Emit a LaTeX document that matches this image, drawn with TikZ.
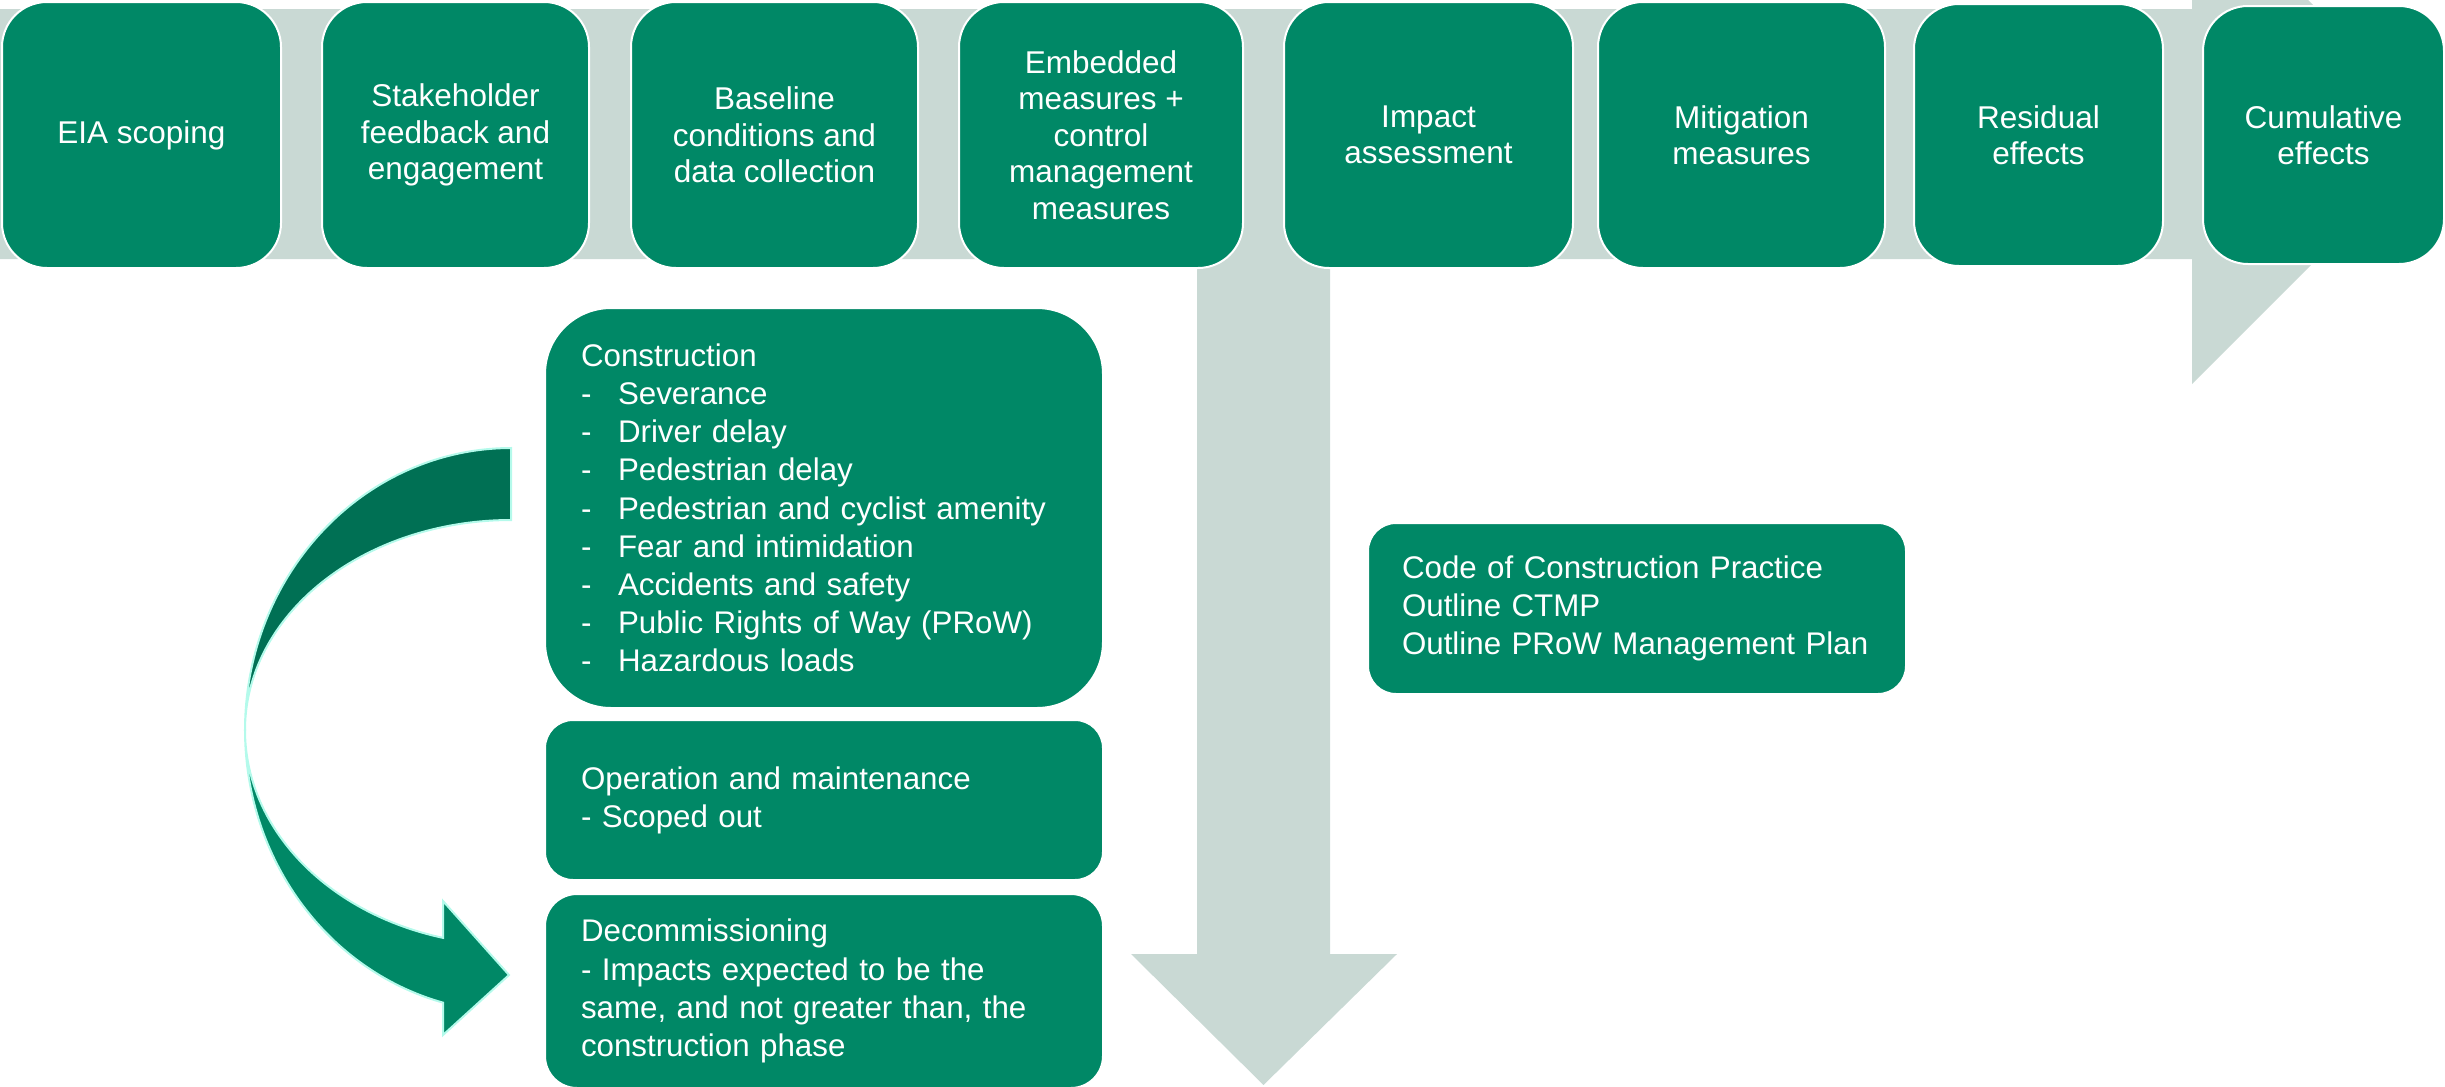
\documentclass[tikz,border=0pt]{standalone}
\usepackage{fontspec}
\setmainfont{Liberation Sans}
\definecolor{boxgreen}{RGB}{0,136,102}
\definecolor{darkgreen}{RGB}{0,112,84}
\definecolor{greyband}{RGB}{201,217,212}
\definecolor{aqua}{RGB}{180,250,235}
\tikzset{
  topbox/.style={draw=white, line width=2pt, fill=boxgreen, text=white, align=center,
    font=\fontsize{31.5}{36.5}\selectfont, inner sep=0pt, anchor=north west, rounded corners=45pt},
  listbox/.style={draw=white, line width=2pt, fill=boxgreen, text=white, align=left,
    font=\fontsize{31.3}{38.2}\selectfont, inner ysep=0pt, anchor=north west},
  greyarrow/.style={fill=greyband, draw=none},
  curveback/.style={fill=darkgreen, draw=aqua, line width=2pt},
  curvefront/.style={fill=boxgreen, draw=aqua, line width=2pt}
}
\newcommand{\itm}[1]{\makebox[37pt][l]{-}#1}
\begin{document}
\begin{tikzpicture}[x=1pt,y=-1pt]
\useasboundingbox (0,0) rectangle (2445,1087);
\clip (0,0) rectangle (2445,1087);
% grey process arrows
\fill[greyarrow] (0,9) -- (2192,9) -- (2192,-116) -- (2442,134) -- (2192,384) -- (2192,259) -- (0,259) -- cycle;
\fill[greyarrow] (1197,200) -- (1330,200) -- (1330,954) -- (1397,954) -- (1263.5,1085) -- (1131,954) -- (1197,954) -- cycle;
% top row
\node[topbox, minimum width=279pt, minimum height=266pt] (eia) at (1,1) {EIA scoping};
\node[topbox, minimum width=267pt, minimum height=266pt] (stake) at (321,1) {Stakeholder\\feedback and\\engagement};
\node[topbox, minimum width=287pt, minimum height=266pt] (base) at (630,1) {Baseline\\conditions and\\data collection};
\node[topbox, minimum width=284pt, minimum height=266pt] (embed) at (958,1) {Embedded\\measures +\\control\\management\\measures};
\node[topbox, minimum width=289pt, minimum height=266pt] (impact) at (1283,1) {Impact\\assessment};
\node[topbox, minimum width=287pt, minimum height=266pt] (mitig) at (1597,1) {Mitigation\\measures};
\node[topbox, minimum width=249pt, minimum height=262pt] (resid) at (1913,3) {Residual\\effects};
\node[topbox, minimum width=241pt, minimum height=258pt] (cumul) at (2202,5) {Cumulative\\effects};
% phase boxes
\node[listbox, rounded corners=66pt, minimum width=558pt, minimum height=400pt, text width=486pt, inner xsep=36pt] (constr) at (544,307)
  {Construction\\\itm{Severance}\\\itm{Driver delay}\\\itm{Pedestrian delay}\\\itm{Pedestrian and cyclist amenity}\\\itm{Fear and intimidation}\\\itm{Accidents and safety}\\\itm{Public Rights of Way (PRoW)}\\\itm{Hazardous loads}};
\node[listbox, rounded corners=28pt, minimum width=558pt, minimum height=160pt, text width=486pt, inner xsep=36pt] (oper) at (544,719)
  {Operation and maintenance\\- Scoped out};
\node[listbox, rounded corners=32pt, minimum width=558pt, minimum height=194pt, text width=486pt, inner xsep=36pt] (decom) at (544,893)
  {Decommissioning\\- Impacts expected to be the\\same, and not greater than, the\\construction phase};
\node[listbox, rounded corners=28pt, minimum width=538pt, minimum height=171pt, text width=470pt, inner xsep=34pt] (cocp) at (1367,522)
  {Code of Construction Practice\\Outline CTMP\\Outline PRoW Management Plan};
% curved arrow from construction to decommissioning
\path[curveback] plot[domain=270:180, samples=80] ({511+266*cos(\x)}, {730+282*sin(\x)})
  -- plot[domain=180:270, samples=80] ({511+266*cos(\x)}, {730+210*sin(\x)}) -- cycle;
\path[curvefront] plot[domain=180:104.8, samples=80] ({511+266*cos(\x)}, {730+282*sin(\x)})
  -- (443,1035) -- (509,975) -- (443,901)
  -- plot[domain=104.8:180, samples=80] ({511+266*cos(\x)}, {730+215*sin(\x)}) -- cycle;
\end{tikzpicture}
\end{document}
